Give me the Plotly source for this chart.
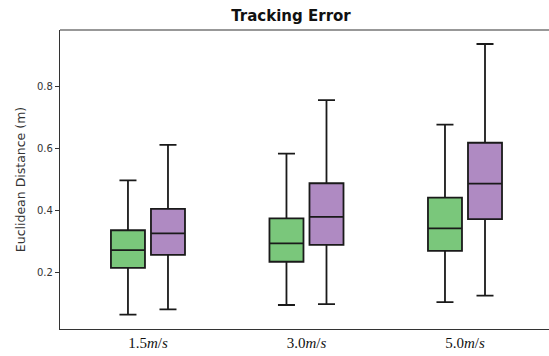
import plotly.graph_objects as go

categories = ["1.5<i>m</i>/<i>s</i>", "3.0<i>m</i>/<i>s</i>", "5.0<i>m</i>/<i>s</i>"]

# series A (green)
a_low = [0.066, 0.097, 0.106]
a_q1 = [0.216, 0.236, 0.271]
a_med = [0.273, 0.295, 0.343]
a_q3 = [0.337, 0.375, 0.442]
a_high = [0.497, 0.583, 0.676]

# series B (purple)
b_low = [0.083, 0.100, 0.127]
b_q1 = [0.258, 0.290, 0.373]
b_med = [0.327, 0.380, 0.487]
b_q3 = [0.406, 0.488, 0.618]
b_high = [0.611, 0.755, 0.935]

fig = go.Figure()
for name, lo, q1, md, q3, hi, col in [
    ("A", a_low, a_q1, a_med, a_q3, a_high, "#7ac77b"),
    ("B", b_low, b_q1, b_med, b_q3, b_high, "#af8ac2"),
]:
    fig.add_trace(go.Box(
        x=categories, lowerfence=lo, q1=q1, median=md, q3=q3, upperfence=hi,
        name=name, fillcolor=col, line=dict(color="#1a1a1a", width=1.8),
        whiskerwidth=0.5, boxpoints=False, hoverinfo="skip",
    ))

fig.update_layout(
    width=549, height=356,
    margin=dict(l=60, r=0, t=30, b=27),
    paper_bgcolor="white", plot_bgcolor="white",
    boxmode="group", boxgap=0.495, boxgroupgap=0.15,
    showlegend=False,
    title=dict(text="<b>Tracking Error</b>", x=291/549, xanchor="center",
               y=1 - 16/356, yanchor="middle",
               font=dict(family="DejaVu Sans", size=15, color="#111")),
    font=dict(family="DejaVu Sans", color="#333"),
)
fig.update_xaxes(
    range=[-0.555, 2.53], showgrid=False, zeroline=False,
    showline=True, linecolor="#333", linewidth=1.2, mirror=False,
    ticks="", tickfont=dict(family="Liberation Serif", size=15, color="#111"),
)
fig.update_yaxes(
    range=[0.02, 0.98], tickvals=[0.2, 0.4, 0.6, 0.8],
    ticktext=["0.2", "0.4", "0.6", "0.8"],
    showgrid=False, zeroline=False,
    showline=True, linecolor="#333", linewidth=1.2,
    ticks="outside", ticklen=4, tickcolor="#333",
    tickfont=dict(size=10, color="#333"),
    title=dict(text="Euclidean Distance (m)", font=dict(size=12.5, color="#333"), standoff=8),
)
# top spine
fig.add_shape(type="line", xref="paper", yref="paper", x0=0, x1=1, y0=1, y1=1,
              line=dict(color="#333", width=1.2))
fig.write_html("out.html")
